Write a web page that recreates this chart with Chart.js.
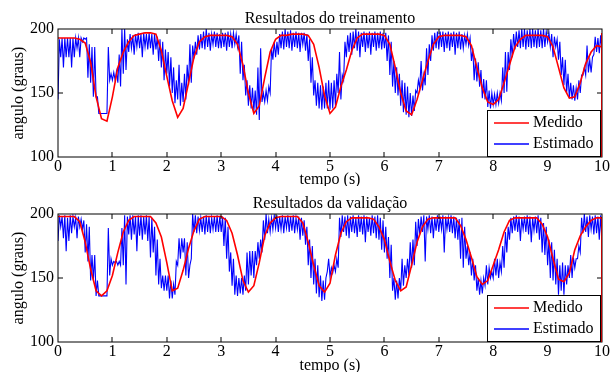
<!DOCTYPE html>
<html lang="pt">
<head>
<meta charset="UTF-8">
<title>Resultados do treinamento e validação</title>
<script src="https://cdn.jsdelivr.net/npm/chart.js"></script>
<style>
  body { margin: 0; background: #fff; }
  .painel { position: absolute; left: 0; width: 610px; height: 186px; }
</style>
</head>
<body>
<div class="painel" style="top:0"><canvas id="treino" width="610" height="186"></canvas></div>
<div class="painel" style="top:186px"><canvas id="validacao" width="610" height="186"></canvas></div>

<script>
// ticks
const ticksTempo = [0, 1, 2, 3, 4, 5, 6, 7, 8, 9, 10];
const ticksAngulo = [100, 150, 200];

// medido: um valor a cada 0.1 s
const medidoTreino = [
  193,193,193,193,192,189,174,147,130,128,
  147,170,182,190,195,196,197,197,196,183,
  163,144,131,138,158,178,190,194,195,195,
  195,195,194,188,172,150,134,140,162,182,
  192,195,195,196,196,196,195,188,170,148,
  134,139,155,168,183,193,196,196,196,196,
  195,188,170,150,136,133,145,160,175,188,
  194,195,195,195,195,194,187,170,154,143,
  141,145,158,172,186,192,195,195,195,195,
  194,186,170,154,146,147,158,173,182,187,
  186
];

// estimado: minimo e maximo a cada 0.05 s
const estimadoTreinoMin = [
  145,178,170,178,178,170,178,185,178,190,192,162,158,147,147,134,134,134,134,160,
  160,160,158,155,165,168,182,185,180,186,185,178,186,184,185,180,184,175,170,160,
  165,155,150,142,145,140,143,145,156,158,177,180,184,185,184,186,183,188,186,185,
  185,186,183,186,185,188,186,165,160,148,140,138,136,133,129,143,143,144,150,176,
  178,180,185,184,186,185,183,186,185,182,188,183,175,158,148,140,138,137,138,138,
  137,138,140,150,145,160,178,182,180,185,183,178,186,182,185,180,186,183,185,184,
  185,175,164,155,150,148,140,135,133,131,132,136,150,154,152,156,164,175,183,185,
  184,186,182,185,183,186,180,185,184,185,188,187,175,160,159,155,146,145,139,138,
  141,141,142,144,150,151,168,178,184,186,185,186,184,186,185,186,185,186,185,186,
  190,186,178,186,176,164,156,150,146,145,144,145,150,164,164,166,166,180,182,181,
  183
];
const estimadoTreinoMax = [
  192,193,193,193,193,193,193,193,193,193,193,188,186,186,147,134,134,134,186,165,
  166,167,180,200,200,192,196,195,196,197,196,197,196,197,196,196,194,192,190,184,
  182,178,170,160,172,158,165,172,188,187,190,195,196,198,200,197,196,198,197,196,
  197,197,198,196,197,196,195,190,172,160,156,154,152,170,185,150,152,155,185,190,
  190,196,198,200,198,199,197,198,197,197,197,196,192,178,160,158,156,155,158,160,
  158,160,165,182,164,190,195,197,198,200,198,197,198,197,198,197,198,197,198,197,
  197,195,190,175,170,165,160,158,155,150,148,152,160,175,164,185,188,195,197,198,
  198,198,197,198,197,198,197,198,196,195,196,193,185,177,174,168,161,160,152,150,
  149,150,150,170,182,182,192,196,198,199,200,200,199,200,200,199,200,199,200,198,
  197,196,194,192,190,178,176,165,158,156,154,160,164,170,187,176,178,194,193,195,
  190
];

const medidoValidacao = [
  198,198,198,198,194,178,157,140,136,140,
  152,170,186,195,198,198,198,198,193,182,
  162,140,142,156,173,187,196,198,198,198,
  198,195,185,168,148,139,144,162,183,193,
  197,198,198,198,198,193,178,160,144,139,
  146,168,185,194,197,197,197,197,196,190,
  180,163,148,140,143,160,178,190,196,197,
  197,197,197,197,191,180,166,151,145,148,
  160,172,186,195,197,197,197,197,197,192,
  182,165,149,147,154,172,183,190,195,197,
  197
];

const estimadoValidacaoMin = [
  179,190,181,171,179,185,190,181,190,188,170,163,148,148,136,136,136,136,136,152,
  160,162,160,160,160,145,184,180,184,171,183,180,184,179,166,170,152,145,142,140,
  140,134,134,137,160,165,170,152,150,165,186,185,187,186,184,186,185,188,186,186,
  186,175,165,155,144,137,136,138,137,140,145,152,150,160,165,170,180,185,186,188,
  189,186,188,185,189,186,187,185,188,180,183,176,160,150,145,138,135,132,133,155,
  151,154,155,158,182,186,183,181,186,185,182,186,184,178,186,183,185,181,180,172,
  170,165,150,140,133,134,140,144,150,152,158,160,175,184,186,163,188,185,181,187,
  186,188,170,188,186,185,181,180,165,158,165,160,152,148,140,137,138,144,145,150,
  150,152,150,155,158,170,180,185,187,186,179,188,186,184,178,187,185,180,170,168,
  160,150,148,145,137,140,137,145,150,150,158,165,170,185,186,182,188,184,185,180,
  178
];
const estimadoValidacaoMax = [
  199,198,199,197,199,198,197,198,196,195,192,190,168,168,148,136,136,136,189,165,
  163,163,163,189,199,198,199,199,198,199,199,198,199,198,197,190,180,165,152,152,
  152,148,145,163,181,181,181,178,160,200,199,198,197,198,199,198,197,198,199,198,
  198,197,190,170,165,152,150,150,152,170,171,171,171,178,180,195,200,196,197,199,
  199,198,199,198,199,198,199,197,198,197,195,190,180,175,165,160,152,148,150,165,
  158,160,165,197,199,198,199,198,199,197,199,198,199,198,197,199,198,199,197,195,
  190,182,176,150,148,150,165,160,165,178,180,194,196,198,199,198,199,198,197,199,
  198,199,198,197,199,198,197,196,197,190,175,170,165,160,150,148,150,160,158,155,
  165,165,162,175,186,190,197,198,199,198,197,198,199,198,197,198,199,197,193,190,
  180,178,172,165,160,162,160,160,168,166,165,175,197,200,198,199,198,199,198,199,
  190
];

const fonte = 'Liberation Serif';
const tamanho = 16;

function serieMedida(valores) {
  return valores.map((v, i) => ({ x: i * 0.1, y: v }));
}

// alterna minimo e maximo para desenhar a faixa de ruido
function serieEstimada(minimos, maximos) {
  const pts = [];
  minimos.forEach((v, i) => {
    pts.push({ x: i * 0.05, y: v });
    pts.push({ x: i * 0.05 + 0.025, y: maximos[i] });
  });
  return pts;
}

// caixa dos eixos com marcas para dentro, como no matlab
const moldura = {
  id: 'moldura',
  afterDatasetsDraw(chart) {
    const { ctx, chartArea: a, scales: { x, y } } = chart;
    ctx.save();
    ctx.strokeStyle = '#000';
    ctx.lineWidth = 1;
    ctx.beginPath();
    ticksTempo.slice(1, -1).forEach(t => {
      const px = Math.round(x.getPixelForValue(t));
      ctx.moveTo(px, a.bottom); ctx.lineTo(px, a.bottom - 5);
      ctx.moveTo(px, a.top); ctx.lineTo(px, a.top + 5);
    });
    ticksAngulo.slice(1, -1).forEach(v => {
      const py = Math.round(y.getPixelForValue(v));
      ctx.moveTo(a.left, py); ctx.lineTo(a.left + 5, py);
      ctx.moveTo(a.right, py); ctx.lineTo(a.right - 5, py);
    });
    ctx.stroke();
    ctx.strokeRect(a.left, a.top, a.right - a.left, a.bottom - a.top);
    // borda direita avermelhada do original
    ctx.strokeStyle = '#c00000';
    ctx.beginPath();
    ctx.moveTo(a.right - 0.5, a.top + 4); ctx.lineTo(a.right - 0.5, a.bottom);
    ctx.stroke();
    ctx.restore();
  },
  afterDraw(chart) {
    // legenda no canto inferior direito
    const { ctx, chartArea: a } = chart;
    const w = 113, h = 46;
    const x0 = a.right - 2 - w, y0 = a.bottom - 1 - h;
    ctx.save();
    ctx.fillStyle = '#fff';
    ctx.fillRect(x0, y0, w, h);
    ctx.strokeStyle = '#000';
    ctx.lineWidth = 1;
    ctx.strokeRect(x0 + 0.5, y0 + 0.5, w, h);
    ctx.font = tamanho + 'px "' + fonte + '"';
    ctx.textBaseline = 'middle';
    chart.data.datasets.forEach((ds, i) => {
      const ly = y0 + 13 + i * 21;
      ctx.strokeStyle = ds.borderColor;
      ctx.lineWidth = 1.5;
      ctx.beginPath();
      ctx.moveTo(x0 + 7, ly); ctx.lineTo(x0 + 42, ly);
      ctx.stroke();
      ctx.fillStyle = '#000';
      ctx.fillText(ds.label, x0 + 46, ly);
    });
    ctx.restore();
  }
};

function criarGrafico(id, titulo, medido, estMin, estMax, topo, alturaX) {
  return new Chart(document.getElementById(id), {
    type: 'line',
    data: {
      datasets: [
        {
          label: 'Medido',
          data: serieMedida(medido),
          borderColor: '#ff0000',
          borderWidth: 1.6,
          pointRadius: 0,
          order: 0
        },
        {
          label: 'Estimado',
          data: serieEstimada(estMin, estMax),
          borderColor: '#0000ff',
          borderWidth: 1.1,
          pointRadius: 0,
          order: 1
        }
      ]
    },
    options: {
      responsive: false,
      animation: false,
      devicePixelRatio: 1,
      layout: { padding: { left: 0, right: 7, top: 0, bottom: 0 } },
      plugins: {
        legend: { display: false },
        tooltip: { enabled: false },
        title: {
          display: true,
          text: titulo,
          color: '#000',
          fullSize: false,
          font: { family: fonte, size: tamanho, weight: 'normal', lineHeight: 1.2 },
          padding: { top: topo - 20.2, bottom: 1 }
        }
      },
      scales: {
        x: {
          type: 'linear',
          min: 0,
          max: 10,
          afterBuildTicks: s => { s.ticks = ticksTempo.map(v => ({ value: v })); },
          ticks: { color: '#000', font: { family: fonte, size: tamanho }, padding: 0, maxRotation: 0 },
          grid: { display: false, drawTicks: false },
          border: { display: false },
          title: {
            display: true,
            text: 'tempo (s)',
            color: '#000',
            font: { family: fonte, size: tamanho },
            padding: { top: 0, bottom: -3 }
          },
          afterFit: s => { s.height = alturaX; }
        },
        y: {
          min: 100,
          max: 200,
          afterBuildTicks: s => { s.ticks = ticksAngulo.map(v => ({ value: v })); },
          ticks: { color: '#000', font: { family: fonte, size: tamanho }, padding: 4 },
          grid: { display: false, drawTicks: false },
          border: { display: false },
          title: {
            display: true,
            text: 'angulo (graus)',
            color: '#000',
            font: { family: fonte, size: tamanho },
            padding: { top: 9, bottom: 0 }
          },
          afterFit: s => { s.width = 58; }
        }
      }
    },
    plugins: [moldura]
  });
}

criarGrafico('treino', 'Resultados do treinamento',
  medidoTreino, estimadoTreinoMin, estimadoTreinoMax, 29, 29);
criarGrafico('validacao', 'Resultados da validação',
  medidoValidacao, estimadoValidacaoMin, estimadoValidacaoMax, 28, 30);
</script>
</body>
</html>
